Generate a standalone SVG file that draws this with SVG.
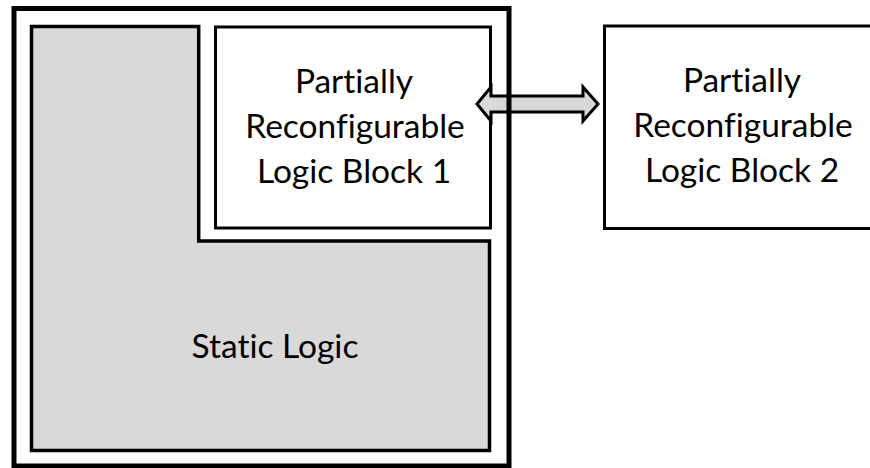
<svg xmlns="http://www.w3.org/2000/svg" width="870" height="468" viewBox="0 0 870 468">
  <style>
    .box { fill: #ffffff; stroke: #000000; stroke-width: 3; }
    .static { fill: #d9d9d9; stroke: #000000; stroke-width: 3.5; stroke-linejoin: miter; }
    .frame { fill: none; stroke: #000000; stroke-width: 5; }
    .link { fill: #d9d9d9; stroke: #000000; stroke-width: 3; stroke-linejoin: miter; }
    .label { font-family: Lato, "Open Sans", "Liberation Sans", sans-serif; font-size: 33.5px; fill: #000000; text-anchor: middle; font-variant-ligatures: none; }
  </style>

  <!-- static region: L-shaped area wrapping the reconfigurable block -->
  <g id="static-logic">
    <path class="static" d="M31.5,26.5 H198.7 V241 H489.5 V450.5 H31.5 Z"/>
    <text class="label" x="275" y="358">Static Logic</text>
  </g>

  <!-- reconfigurable block inside the device -->
  <g id="prlb1">
    <rect class="box" x="215.5" y="27" width="275" height="201"/>
    <text class="label" x="354" y="93">Partially</text>
    <text class="label" x="355" y="138">Reconfigurable</text>
    <text class="label" x="354" y="183">Logic Block 1</text>
  </g>

  <!-- alternate block, swapped in at runtime -->
  <g id="prlb2">
    <rect class="box" x="604.5" y="26" width="280" height="202.5"/>
    <text class="label" x="742" y="92">Partially</text>
    <text class="label" x="743" y="137">Reconfigurable</text>
    <text class="label" x="742" y="182">Logic Block 2</text>
  </g>

  <!-- bidirectional swap arrow -->
  <g id="connectors">
    <path class="link" d="M477,104 L491,87 V96 H583 V87 L598,104 L583,121 V112 H491 V121 Z"/>
  </g>

  <!-- device boundary -->
  <g id="device">
    <rect class="frame" x="14" y="8.5" width="495" height="457.5"/>
  </g>
</svg>
